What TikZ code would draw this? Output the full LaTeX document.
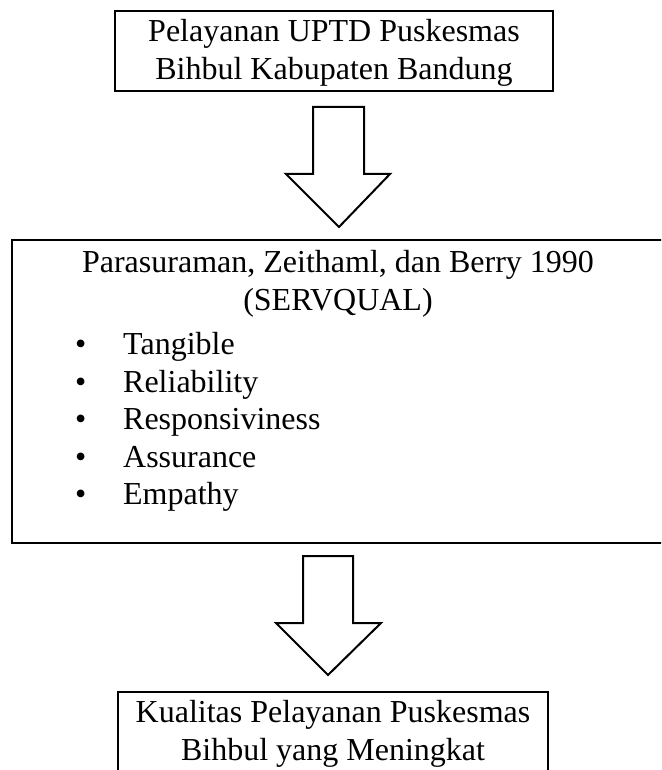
\documentclass[tikz,border=0pt]{standalone}
\usepackage{fontspec}
\setmainfont{Liberation Serif}
\usetikzlibrary{positioning}

\newcommand{\bigdot}{\makebox[48pt][l]{\textbullet}}

\begin{document}
\begin{tikzpicture}[x=1pt,y=-1pt,%%
  boxStyle/.style={draw,line width=2.2pt},
  blockArrowStyle/.style={draw,line width=2pt,fill=white,line join=miter},
  lineStyle/.style={anchor=base,inner sep=0pt,font=\fontsize{32}{38}\selectfont}
]
%%
\useasboundingbox (0,0) rectangle (661,770);
\clip (0,0) rectangle (661,770);
%%
%% The three boxes.
\path[boxStyle] (115,11) rectangle (553,91);
\path[boxStyle] (12,240) rectangle (720,543);
\path[boxStyle] (118,692) rectangle (548,820);
%%
%% Text of the first box.
\node (topA) at (334,42) [lineStyle] {Pelayanan UPTD Puskesmas};
\node (topB) at (334,80) [lineStyle] {Bihbul Kabupaten Bandung};
%%
%% Text of the second box.
\node (midA) at (338,272) [lineStyle] {Parasuraman, Zeithaml, dan Berry 1990};
\node (midB) at (338,310) [lineStyle] {(SERVQUAL)};
\foreach \label [count=\i] in {Tangible,Reliability,Responsiviness,Assurance,Empathy}
  \node (item\i) at (75,317+37.5*\i) [lineStyle,anchor=base west] {\bigdot\label};
%%
%% Text of the third box.
\node (botA) at (333,722) [lineStyle] {Kualitas Pelayanan Puskesmas};
\node (botB) at (333,760) [lineStyle] {Bihbul yang Meningkat};
%%
%% The two block arrows.
\path[blockArrowStyle] (313,107) -- (364,107) -- (364,174) -- (390,174)
  -- (339,227) -- (286,174) -- (313,174) -- cycle;
\path[blockArrowStyle] (303,556) -- (353,556) -- (353,623) -- (381,623)
  -- (328,675) -- (276,623) -- (303,623) -- cycle;
\end{tikzpicture}
\end{document}
